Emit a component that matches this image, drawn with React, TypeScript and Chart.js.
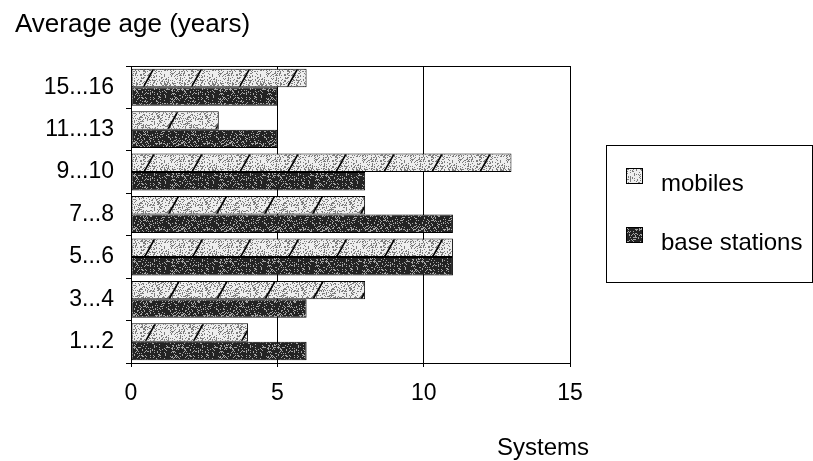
import React, { useEffect, useRef } from "react";
import { Chart, registerables } from "chart.js";

Chart.register(...registerables);

const categories = ["15...16", "11...13", "9...10", "7...8", "5...6", "3...4", "1...2"];
const mobiles = [6, 3, 13, 8, 11, 8, 4];
const baseStations = [5, 5, 8, 11, 11, 6, 6];
const seriesLabels = ["mobiles", "base stations"];
const xMin = 0;
const xMax = 15;
const xStep = 5;
const chartTitle = "Average age (years)";
const xTitle = "Systems";

const FONT = '"Liberation Sans", Arial, sans-serif';

function hash(x: number, y: number) {
  let h = (x * 374761393 + y * 668265263) | 0;
  h = (h ^ (h >>> 13)) * 1274126177;
  h = h ^ (h >>> 16);
  return (h >>> 0) % 100;
}

function makePattern(kind: "light" | "dark", withLines: boolean): CanvasPattern | string {
  const w = 48;
  const h = 86;
  const c = document.createElement("canvas");
  c.width = w;
  c.height = h;
  const g = c.getContext("2d");
  if (!g) return kind === "light" ? "#cfcfcf" : "#444";
  const img = g.createImageData(w, h);
  for (let y = 0; y < h; y++) {
    for (let x = 0; x < w; x++) {
      const r = hash(x, y);
      let v: number;
      if (kind === "light") v = r < 28 ? 125 : 238;
      else v = r < 20 ? 165 : 35;
      const i = (y * w + x) * 4;
      img.data[i] = v;
      img.data[i + 1] = v;
      img.data[i + 2] = v;
      img.data[i + 3] = 255;
    }
  }
  g.putImageData(img, 0, 0);
  if (withLines) {
    g.strokeStyle = "#000";
    g.lineWidth = 1.6;
    for (const dx of [-w, 0, w]) {
      g.beginPath();
      g.moveTo(dx, h);
      g.lineTo(dx + w, 0);
      g.stroke();
    }
  }
  const p = g.createPattern(c, "repeat");
  return p || (kind === "light" ? "#cfcfcf" : "#444");
}

export default function App() {
  const ref = useRef<HTMLCanvasElement | null>(null);

  useEffect(() => {
    const canvas = ref.current;
    if (!canvas) return;
    const lightPat = makePattern("light", true);
    const darkPat = makePattern("dark", false);

    const decor = {
      id: "decor",
      afterDraw(chart: any) {
        const ctx = chart.ctx as CanvasRenderingContext2D;
        const { left, top, right } = chart.chartArea;
        ctx.save();
        ctx.strokeStyle = "#000";
        ctx.lineWidth = 1;
        ctx.beginPath();
        ctx.moveTo(left, Math.round(top) + 0.5);
        ctx.lineTo(right, Math.round(top) + 0.5);
        ctx.stroke();

        ctx.fillStyle = "#000";
        ctx.textBaseline = "alphabetic";
        ctx.textAlign = "left";
        ctx.font = `26px ${FONT}`;
        ctx.fillText(chartTitle, 15, 32);
        ctx.font = `24px ${FONT}`;
        ctx.fillText(xTitle, 497, 455);

        // legend
        ctx.strokeRect(606.5, 145.5, 206, 137);
        ctx.font = `24px ${FONT}`;
        const items = chart.data.datasets;
        const ys = [168, 227];
        items.forEach((ds: any, i: number) => {
          const y = ys[i];
          ctx.fillStyle = ds.backgroundColor;
          ctx.fillRect(626, y, 17, 16);
          ctx.strokeStyle = "#000";
          ctx.strokeRect(626.5, y + 0.5, 16, 15);
          ctx.fillStyle = "#000";
          ctx.fillText(ds.label, 661, y + 23);
        });
        ctx.restore();
      },
    };

    const chart = new Chart(canvas, {
      type: "bar",
      data: {
        labels: categories,
        datasets: [
          {
            label: seriesLabels[0],
            data: mobiles,
            backgroundColor: lightPat as any,
            borderColor: "#000",
            borderWidth: 1,
            borderSkipped: false,
            categoryPercentage: 0.87,
            barPercentage: 1,
          },
          {
            label: seriesLabels[1],
            data: baseStations,
            backgroundColor: darkPat as any,
            borderColor: "#000",
            borderWidth: 1,
            borderSkipped: false,
            categoryPercentage: 0.87,
            barPercentage: 1,
          },
        ],
      },
      options: {
        indexAxis: "y",
        responsive: false,
        animation: false,
        layout: { padding: { top: 66, right: 243, left: 0, bottom: 0 } },
        plugins: {
          legend: { display: false },
          tooltip: { enabled: false },
          title: { display: false },
        },
        scales: {
          x: {
            min: xMin,
            max: xMax,
            ticks: {
              stepSize: xStep,
              color: "#000",
              font: { family: FONT, size: 23 },
              padding: 13,
              maxRotation: 0,
            },
            grid: {
              color: "#000",
              lineWidth: 1,
              drawTicks: true,
              tickLength: 4,
            },
            border: { display: true, color: "#000", width: 1 },
            afterFit(scale: any) {
              scale.height = 98;
            },
          },
          y: {
            ticks: {
              color: "#000",
              font: { family: FONT, size: 23 },
              padding: 12,
            },
            grid: {
              display: true,
              drawOnChartArea: false,
              drawTicks: true,
              tickLength: 5,
              color: "#000",
              offset: true,
            },
            border: { display: true, color: "#000", width: 1 },
            afterFit(scale: any) {
              scale.width = 131;
            },
          },
        },
      },
      plugins: [decor],
    });
    return () => chart.destroy();
  }, []);

  return (
    <div style={{ position: "absolute", left: 0, top: 0, width: 813, height: 461, background: "#fff" }}>
      <canvas ref={ref} width={813} height={461} />
    </div>
  );
}
